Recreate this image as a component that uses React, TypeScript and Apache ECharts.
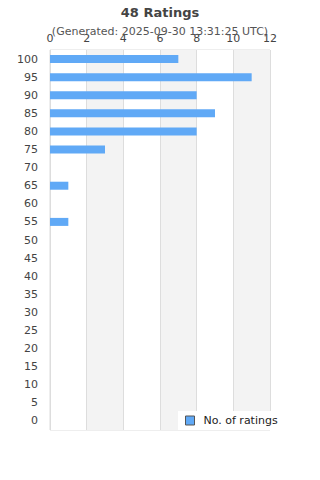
import React, { useEffect, useRef } from "react";
import * as echarts from "echarts";

const titleText = "48 Ratings";
const subtitleText = "(Generated: 2025-09-30 13:31:25 UTC)";
const categories = ["0", "5", "10", "15", "20", "25", "30", "35", "40", "45", "50", "55", "60", "65", "70", "75", "80", "85", "90", "95", "100"];
const counts = [0, 0, 0, 0, 0, 0, 0, 0, 0, 0, 0, 1, 0, 1, 0, 3, 8, 9, 8, 11, 7];
const seriesName = "No. of ratings";

export default function App() {
  const ref = useRef<HTMLDivElement>(null);
  useEffect(() => {
    document.body.style.margin = "0";
    const chart = echarts.init(ref.current!, null, { renderer: "svg" });
    const font = "'DejaVu Sans', sans-serif";
    chart.setOption({
      animation: false,
      textStyle: { fontFamily: font },
      title: [
        {
          text: titleText,
          left: "center",
          top: 1,
          textStyle: { fontSize: 13, fontWeight: "bold", color: "#444", fontFamily: font },
        },
        {
          text: subtitleText,
          left: "center",
          top: 21,
          textStyle: { fontSize: 11, fontWeight: "normal", color: "#555", fontFamily: font },
        },
      ],
      legend: {
        data: [seriesName],
        left: 178,
        top: 411,
        padding: [4, 8, 4, 7],
        backgroundColor: "#fff",
        itemWidth: 9,
        itemHeight: 9,
        itemGap: 6,
        icon: "rect",
        itemStyle: { borderColor: "#555", borderWidth: 1 },
        textStyle: { fontSize: 11, color: "#222", fontFamily: font, padding: [0, 0, 0, 4] },
      },
      grid: {
        left: 50,
        right: 50,
        top: 50,
        bottom: 50,
        show: true,
        borderColor: "#ddd",
        borderWidth: 1,
        backgroundColor: "transparent",
      },
      xAxis: {
        type: "value",
        position: "top",
        min: 0,
        max: 12,
        interval: 2,
        axisLine: { show: false },
        axisTick: { show: false },
        axisLabel: { fontSize: 11, color: "#444", margin: 6, fontFamily: font },
        splitLine: { show: true, lineStyle: { color: "#ddd", width: 1 } },
        splitArea: { show: true, areaStyle: { color: ["#ffffff", "#f3f3f3"] } },
      },
      yAxis: {
        type: "category",
        data: categories,
        axisLine: { show: false },
        axisTick: { show: false },
        axisLabel: { fontSize: 11, color: "#444", margin: 12, interval: 0, fontFamily: font },
        splitLine: { show: false },
      },
      series: [
        {
          name: seriesName,
          type: "bar",
          data: counts,
          barWidth: 8,
          itemStyle: { color: "#60a9f6" },
        },
      ],
    });
    return () => chart.dispose();
  }, []);
  return <div ref={ref} style={{ width: 320, height: 480 }} />;
}
